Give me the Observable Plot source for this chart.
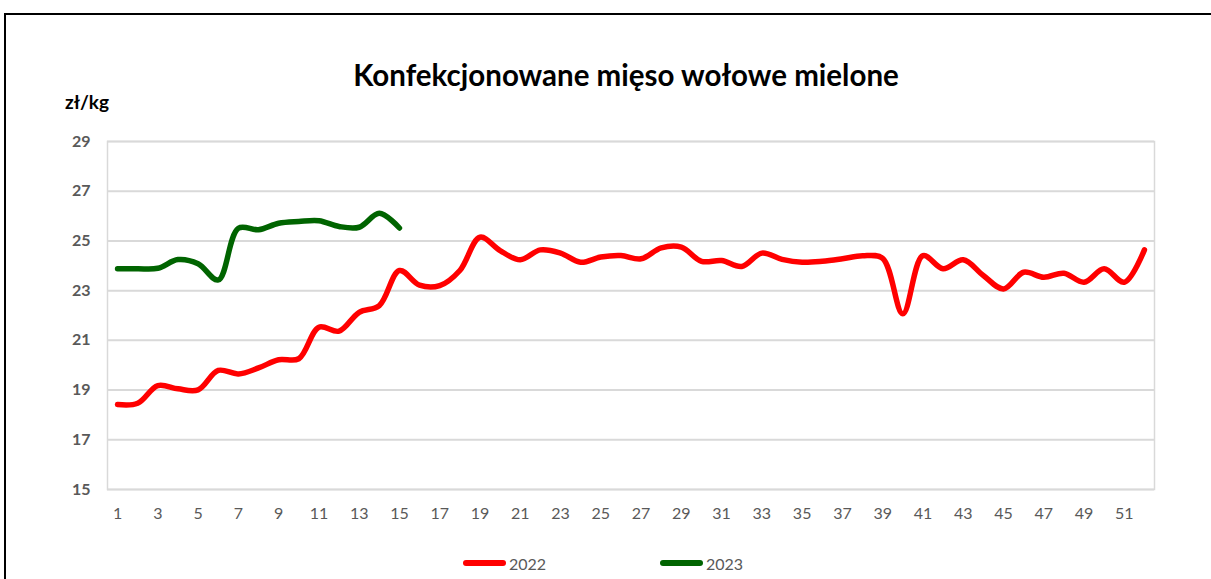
<!DOCTYPE html>
<html>
<head>
<meta charset="utf-8">
<script src="https://cdn.jsdelivr.net/npm/d3@7"></script>
<script src="https://cdn.jsdelivr.net/npm/@observablehq/plot@0.6"></script>
<style>
  html, body { margin: 0; padding: 0; background: #fff; }
  #wrap { position: relative; width: 1211px; height: 579px; overflow: hidden; font-family: Lato, "Open Sans", sans-serif; }
  #frame { position: absolute; left: 4px; top: 13px; width: 1300px; height: 700px; border-top: 2px solid #000; border-left: 2px solid #000; box-sizing: border-box; }
  #title { position: absolute; left: 0; width: 1252px; top: 57px; text-align: center; font-weight: 700; font-size: 29.5px; color: #000; }
  #unit { position: absolute; left: 65px; top: 90px; font-weight: 700; font-size: 19px; color: #000; }
  #legend { position: absolute; top: 552px; left: 0; width: 1211px; height: 24px; }
  .item { position: absolute; top: 0; display: flex; align-items: center; font-size: 16px; color: #595959; height: 22px; }
  .sw { display: inline-block; width: 43px; height: 6px; border-radius: 3px; margin-right: 3px; }
  #chart { position: absolute; left: 0; top: 0; }
</style>
</head>
<body>
<div id="wrap">
  <div id="chart"></div>
  <div id="frame"></div>
  <div id="title">Konfekcjonowane mięso wołowe mielone</div>
  <div id="unit">zł/kg</div>
  <div id="legend"></div>
</div>
<script>
const weeks2022 = [1,2,3,4,5,6,7,8,9,10,11,12,13,14,15,16,17,18,19,20,21,22,23,24,25,26,27,28,29,30,31,32,33,34,35,36,37,38,39,40,41,42,43,44,45,46,47,48,49,50,51,52];
const values2022 = [18.42,18.47,19.18,19.05,19.01,19.79,19.65,19.89,20.22,20.26,21.53,21.37,22.13,22.40,23.81,23.22,23.20,23.81,25.15,24.61,24.24,24.64,24.51,24.14,24.35,24.41,24.28,24.72,24.75,24.18,24.21,23.97,24.51,24.26,24.14,24.18,24.28,24.40,24.30,22.07,24.41,23.88,24.24,23.61,23.07,23.74,23.54,23.70,23.34,23.88,23.34,24.64];
const weeks2023 = [1,2,3,4,5,6,7,8,9,10,11,12,13,14,15];
const values2023 = [23.88,23.88,23.90,24.25,24.08,23.43,25.51,25.45,25.71,25.78,25.81,25.58,25.55,26.11,25.52];
const seriesNames = ["2022", "2023"];
const seriesColors = ["#ff0000", "#006400"];
const xTicks = [1,3,5,7,9,11,13,15,17,19,21,23,25,27,29,31,33,35,37,39,41,43,45,47,49,51];
const yTicks = [15,17,19,21,23,25,27,29];

const rows = [
  ...weeks2022.map((w, i) => ({week: w, value: values2022[i], year: seriesNames[0]})),
  ...weeks2023.map((w, i) => ({week: w, value: values2023[i], year: seriesNames[1]}))
];

const chart = Plot.plot({
  width: 1211,
  height: 579,
  marginLeft: 107,
  marginRight: 57,
  marginTop: 141,
  marginBottom: 90,
  style: {background: "transparent", fontFamily: "Lato, 'Open Sans', sans-serif"},
  x: {domain: [0.5, 52.5], ticks: xTicks, tickSize: 0, tickPadding: 18, tickFormat: d => String(d)},
  y: {domain: [15, 29], ticks: yTicks, tickSize: 0, tickPadding: 17, tickFormat: d => String(d)},
  color: {domain: seriesNames, range: seriesColors},
  marks: [
    Plot.ruleY(yTicks, {stroke: "#d9d9d9", strokeWidth: 2}),
    Plot.frame({stroke: "#d9d9d9", strokeWidth: 1.5}),
    Plot.axisX({ticks: xTicks, tickSize: 0, tickPadding: 18, fontSize: 16, fill: "#595959", label: null}),
    Plot.axisY({ticks: yTicks, tickSize: 0, tickPadding: 17, fontSize: 16, fontWeight: "bold", fill: "#595959", label: null}),
    Plot.line(rows, {x: "week", y: "value", z: "year", stroke: "year", strokeWidth: 5.5, curve: "catmull-rom", strokeLinecap: "round", strokeLinejoin: "round"})
  ]
});
document.getElementById("chart").appendChild(chart);

const legend = document.getElementById("legend");
const lefts = [463, 660];
seriesNames.forEach((name, i) => {
  const it = document.createElement("div");
  it.className = "item";
  it.style.left = lefts[i] + "px";
  const sw = document.createElement("span");
  sw.className = "sw";
  sw.style.background = seriesColors[i];
  it.appendChild(sw);
  it.appendChild(document.createTextNode(name));
  legend.appendChild(it);
});
</script>
</body>
</html>
